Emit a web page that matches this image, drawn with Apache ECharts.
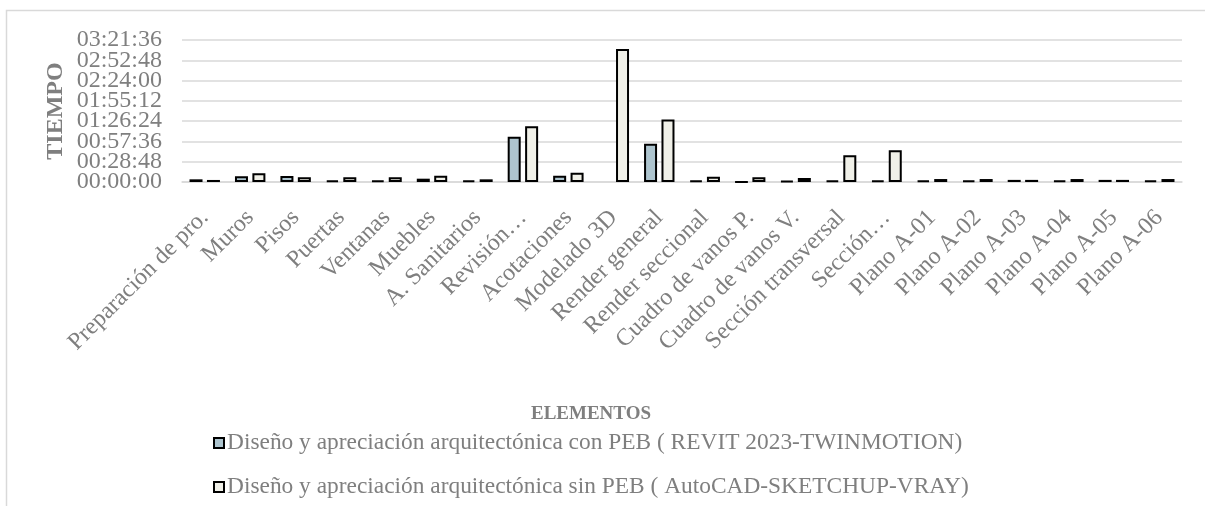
<!DOCTYPE html>
<html>
<head>
<meta charset="utf-8">
<script src="https://cdn.jsdelivr.net/npm/echarts@6/dist/echarts.min.js"></script>
<style>
html,body{margin:0;padding:0;background:#fff;}
#chart{width:1205px;height:506px;}
</style>
</head>
<body>
<div id="chart"></div>
<script>
// Categories (x axis)
var categories = ['Preparación de pro.','Muros','Pisos','Puertas','Ventanas','Muebles','A. Sanitarios','Revisión…','Acotaciones','Modelado 3D','Render general','Render seccional','Cuadro de vanos P.','Cuadro de vanos V.','Sección transversal','Sección…','Plano A-01','Plano A-02','Plano A-03','Plano A-04','Plano A-05','Plano A-06'];

// Series names
var seriesNames = [
  'Diseño y apreciación arquitectónica con PEB ( REVIT 2023-TWINMOTION)',
  'Diseño y apreciación arquitectónica sin PEB ( AutoCAD-SKETCHUP-VRAY)'
];

// Durations in minutes
var conPEB = [3.8, 8.1, 8.5, 2.4, 1.8, 4.7, 2.4, 64.3, 8.9, null, 54.3, 1.8, 0.3, 1.5, 1.8, 1.8, 2.2, 2.2, 3.0, 2.2, 3.0, 2.4];
var sinPEB = [2.9, 12.3, 6.7, 6.7, 6.7, 8.9, 3.8, 79.0, 13.2, 188.7, 88.9, 7.5, 6.7, 5.7, 37.9, 45.0, 4.2, 4.2, 3.0, 4.2, 3.0, 4.2];

// Y axis: ticks every 00:28:48 (1728 s), top at 03:21:36
var yStep = 1728;
var yMax = 12096;
var yTickLabels = ['00:00:00','00:28:48','00:57:36','01:26:24','01:55:12','02:24:00','02:52:48','03:21:36'];

function toSec(m){ return m == null ? null : Math.round(m * 60); }

var chart = echarts.init(document.getElementById('chart'));
var font = 'Liberation Serif';
var gray = '#7f7f7f';

chart.setOption({
  animation: false,
  backgroundColor: '#fff',
  grid: {left: 182, right: 23, top: 40, bottom: 324, containLabel: false},
  graphic: [
    {type: 'rect', shape: {x: 6.5, y: 10.5, width: 1400, height: 700}, style: {fill: 'none', stroke: '#d9d9d9', lineWidth: 1.5}, silent: true},
    {type: 'text', x: 591, y: 414, style: {text: 'ELEMENTOS', font: 'bold 19px "Liberation Serif"', fill: gray, textAlign: 'center', textVerticalAlign: 'middle'}}
  ],
  legend: {
    orient: 'vertical', left: 208, top: 426, itemGap: 20, itemWidth: 10, itemHeight: 10,
    icon: 'rect',
    textStyle: {fontFamily: font, fontSize: 23.4, color: gray, lineHeight: 24, padding: [0, 0, 0, -2]},
    data: seriesNames
  },
  xAxis: {
    type: 'category', data: categories,
    axisTick: {show: false},
    axisLine: {lineStyle: {color: '#d9d9d9', width: 1.5}},
    axisLabel: {interval: 0, rotate: 45, margin: 32, fontFamily: font, fontSize: 24, color: gray}
  },
  yAxis: [
    {
      type: 'value', min: 0, max: yMax, interval: yStep,
      name: 'TIEMPO', nameLocation: 'middle', nameRotate: 90, nameGap: 114,
      nameTextStyle: {fontFamily: font, fontSize: 24, fontWeight: 'bold', color: gray},
      axisLine: {show: false}, axisTick: {show: false},
      splitLine: {lineStyle: {color: '#d9d9d9', width: 1.5}},
      axisLabel: {show: false}
    },
    {
      type: 'category', data: yTickLabels, boundaryGap: false, position: 'left',
      axisLine: {show: false}, axisTick: {show: false}, splitLine: {show: false},
      axisLabel: {interval: 0, margin: 20, fontFamily: font, fontSize: 24, color: gray}
    }
  ],
  series: [
    {name: seriesNames[0], type: 'bar', barWidth: 13, barGap: '34%', data: conPEB.map(toSec),
     itemStyle: {color: '#adc4ce', borderColor: '#000', borderWidth: 2}},
    {name: seriesNames[1], type: 'bar', barWidth: 13, barGap: '34%', data: sinPEB.map(toSec),
     itemStyle: {color: '#f0f0e8', borderColor: '#000', borderWidth: 2}}
  ]
});
</script>
</body>
</html>
